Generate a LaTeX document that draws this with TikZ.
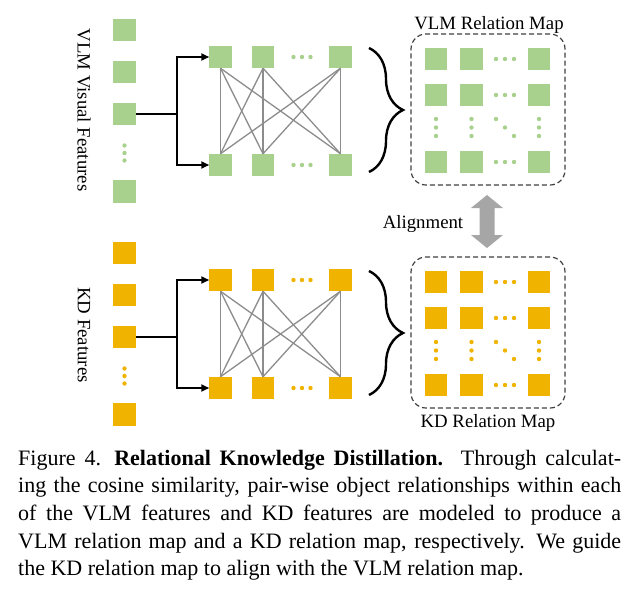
\documentclass[tikz,border=0pt]{standalone}
\usepackage{fontspec}
\setmainfont{Liberation Serif}
\usetikzlibrary{positioning,decorations.pathreplacing,arrows.meta}
\definecolor{vlmgreen}{HTML}{A9D18E}
\definecolor{kdgold}{HTML}{F0B400}
\definecolor{linkgray}{HTML}{8C8C8C}
\definecolor{aligngray}{HTML}{A6A6A6}
\definecolor{boxgray}{HTML}{404040}
\newcommand\capfont{\fontsize{22}{27.7}\selectfont
	\spaceskip=0.25em plus 0.6em minus 0.08em\relax
	\xspaceskip=0.45em plus 0.6em minus 0.08em\relax}

\begin{document}
\begin{tikzpicture}[x=1pt,y=-1pt,
	feat/.style={minimum size=22.5pt,inner sep=0pt,outer sep=0pt},
	link/.style={linkgray,line width=1.3pt},
	feed/.style={black,line width=1.8pt,-{Triangle[length=8pt,width=7pt]}},
	curly/.style={decorate,decoration={brace,amplitude=34pt},line width=2.4pt},
	mapbox/.style={draw=boxgray,line width=1.2pt,dash pattern=on 5pt off 3pt,rounded corners=15pt,minimum width=154pt,minimum height=151pt,inner sep=0pt},
	lbl/.style={font=\fontsize{18.8}{20}\selectfont,inner sep=0pt}]
	\useasboundingbox (0,0) rectangle (632,595);
	\foreach \grp/\col/\dy in {vlm/vlmgreen/0,kd/kdgold/223} {
		% feature column
		\foreach \i/\y in {1/30,2/72,3/114,5/191.5} \node[feat,fill=\col] (\grp-f\i) at (124.5,\y+\dy) {};
		\foreach \y in {145.5,153,160.5} \fill[\col] (124.5,\y+\dy) circle (2.2);
		% top and bottom rows
		\foreach \j/\x in {1/220.5,2/263,4/340.5} {
			\node[feat,fill=\col] (\grp-t\j) at (\x,57+\dy) {};
			\node[feat,fill=\col] (\grp-b\j) at (\x,165+\dy) {};
		}
		\foreach \x in {293.5,302,310.5} {\fill[\col] (\x,57+\dy) circle (2.2); \fill[\col] (\x,165+\dy) circle (2.2);}
		% pair-wise links
		\foreach \j in {1,2,4} \foreach \k in {1,2,4} \draw[link] (\grp-t\j.south) -- (\grp-b\k.north);
		% feed arrows
		\coordinate (\grp-split) at (177,114+\dy);
		\draw[feed] (\grp-f3.east) -- (\grp-split) |- (\grp-t1.west);
		\draw[feed] (\grp-split) |- (\grp-b1.west);
		% brace
		\draw[curly] (369,48+\dy) -- (369,172+\dy);
		% relation map
		\node[mapbox] (\grp-map) at (488,109.5+\dy) {};
		\foreach \r/\y in {1/59,2/95,4/162} {
			\foreach \c/\x in {1/436,2/471.5,4/539} \node[feat,fill=\col] (\grp-m\r\c) at (\x,\y+\dy) {};
			\foreach \x in {496,505,514} \fill[\col] (\x,\y+\dy) circle (2.2);
		}
		\foreach \x in {436,471.5,539} \foreach \y in {119,127.5,136} \fill[\col] (\x,\y+\dy) circle (2.2);
		\foreach \x/\y in {496/119,505/127.5,514/136} \fill[\col] (\x,\y+\dy) circle (2.2);
	}
	% labels
	\node[lbl,rotate=-90] (vlm-lab) at (84,110) {VLM Visual Features};
	\node[lbl,rotate=-90] (kd-lab) at (84,335) {KD Features};
	\node[lbl,anchor=base] (vlm-title) at (489,29.5) {VLM Relation Map};
	\node[lbl,anchor=base] (kd-title) at (488,427) {KD Relation Map};
	% alignment arrow
	\fill[aligngray] (487,195) -- (503,208) -- (494.5,208) -- (494.5,235) -- (503,235) -- (487,248)
		-- (471,235) -- (479.5,235) -- (479.5,208) -- (471,208) -- cycle;
	\node[lbl,anchor=base] (align-lab) at (423,228) {Alignment};
	% caption
	\node[anchor=base west,text width=603pt,inner sep=0pt] (caption) at (18,465) {\capfont
		\hbox to 603pt{Figure 4. \textbf{Relational Knowledge Distillation.}\hspace{0.2em} Through calculat-}
		\hbox to 603pt{ing the cosine similarity, pair-wise object relationships within each}
		\hbox to 603pt{of the VLM features and KD features are modeled to produce a}
		\hbox to 603pt{VLM relation map and a KD relation map, respectively. We guide}
		\hbox{the KD relation map to align with the VLM relation map.}\par};
\end{tikzpicture}
\end{document}
